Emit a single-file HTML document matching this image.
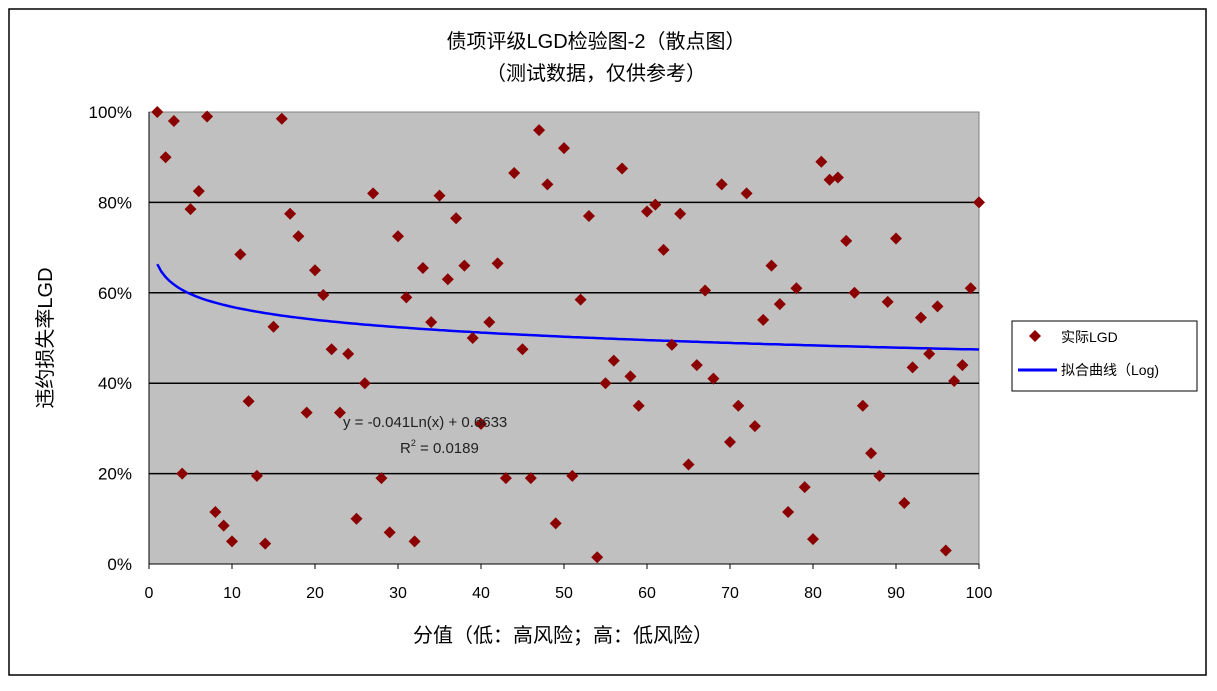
<!DOCTYPE html>
<html><head><meta charset="utf-8"><style>
body{margin:0;background:#fff;width:1217px;height:686px;overflow:hidden}
text{font-family:"Liberation Sans","Noto Sans CJK SC",sans-serif}
</style></head><body>
<svg id="chart" width="1217" height="686">
<rect x="9" y="9" width="1197" height="666" fill="#fff" stroke="#000" stroke-width="1.5"/>
<text x="596" y="48" font-size="20" text-anchor="middle" fill="#000">债项评级LGD检验图-2（散点图）</text>
<text x="596" y="80" font-size="20" text-anchor="middle" fill="#000">（测试数据，仅供参考）</text>
<rect x="149" y="112" width="830" height="452" fill="#c0c0c0" stroke="#808080"/>
<g id="grid"></g><g id="axes"></g><g id="trend"></g><g id="pts"></g>
<text x="343" y="427" font-size="15" fill="#222">y = -0.041Ln(x) + 0.6633</text>
<text x="400" y="453" font-size="15" fill="#222">R<tspan font-size="9" dy="-7">2</tspan><tspan dy="7"> = 0.0189</tspan></text>
<text transform="translate(52,338) rotate(-90)" font-size="20" text-anchor="middle">违约损失率LGD</text>
<text x="563" y="642" font-size="20" text-anchor="middle">分值（低：高风险；高：低风险）</text>
<g>
<rect x="1012" y="321" width="185" height="70" fill="#fff" stroke="#000"/>
<path d="M1035,330 l6,6 l-6,6 l-6,-6z" fill="#8b0000"/>
<text x="1061" y="342" font-size="14">实际LGD</text>
<line x1="1018" y1="370" x2="1057" y2="370" stroke="#0000ff" stroke-width="3"/>
<text x="1061" y="375" font-size="14">拟合曲线（Log)</text>
</g>
</svg>
<script>
const xTicks=[0,10,20,30,40,50,60,70,80,90,100];
const yTicks=[0,20,40,60,80,100];
const lgd=[100,90,98,20,78.5,82.5,99,11.5,8.5,5,68.5,36,19.5,4.5,52.5,98.5,77.5,72.5,33.5,65,59.5,47.5,33.5,46.5,10,40,82,19,7,72.5,59,5,65.5,53.5,81.5,63,76.5,66,50,31,53.5,66.5,19,86.5,47.5,19,96,84,9,92,19.5,58.5,77,1.5,40,45,87.5,41.5,35,78,79.5,69.5,48.5,77.5,22,44,60.5,41,84,27,35,82,30.5,54,66,57.5,11.5,61,17,5.5,89,85,85.5,71.5,60,35,24.5,19.5,58,72,13.5,43.5,54.5,46.5,57,3,40.5,44,61,80];
const trendA=-0.041, trendB=0.6633;
const NS='http://www.w3.org/2000/svg';
const X=v=>149+v*8.3, Y=v=>564-v*4.52;
function mk(t,a,p){const e=document.createElementNS(NS,t);for(const k in a)e.setAttribute(k,a[k]);document.getElementById(p).appendChild(e);return e;}
yTicks.forEach(t=>{
 if(t>0&&t<100){const l=mk('line',{x1:149,x2:979,y1:Y(t),y2:Y(t),stroke:'#000','stroke-width':1.5},'grid');
 
 }
 const tx=mk('text',{x:132,y:Y(t)+6,'font-size':17,'text-anchor':'end'},'axes');tx.textContent=t+'%';
 
 
});
mk('line',{x1:149,x2:149,y1:112,y2:564,stroke:'#000'},'axes');
mk('line',{x1:149,x2:979,y1:564,y2:564,stroke:'#000'},'axes');
xTicks.forEach(t=>{
 mk('line',{x1:X(t),x2:X(t),y1:564,y2:569,stroke:'#000'},'axes');
 const tx=mk('text',{x:X(t),y:598,'font-size':16,'text-anchor':'middle'},'axes');tx.textContent=t;
 
 
});
let d='';for(let x=1;x<=100;x+=0.5){d+=(x==1?'M':'L')+X(x).toFixed(1)+','+Y((trendA*Math.log(x)+trendB)*100).toFixed(1);}
const tl=mk('path',{d:d,fill:'none',stroke:'#0000ff','stroke-width':2.5},'trend');


lgd.forEach((v,i)=>{const cx=X(i+1),cy=Y(v);
 const p=mk('path',{d:`M${cx},${cy-6}l6,6l-6,6l-6,-6z`,fill:'#8b0000'},'pts');
 
 
});
</script>
</body></html>
